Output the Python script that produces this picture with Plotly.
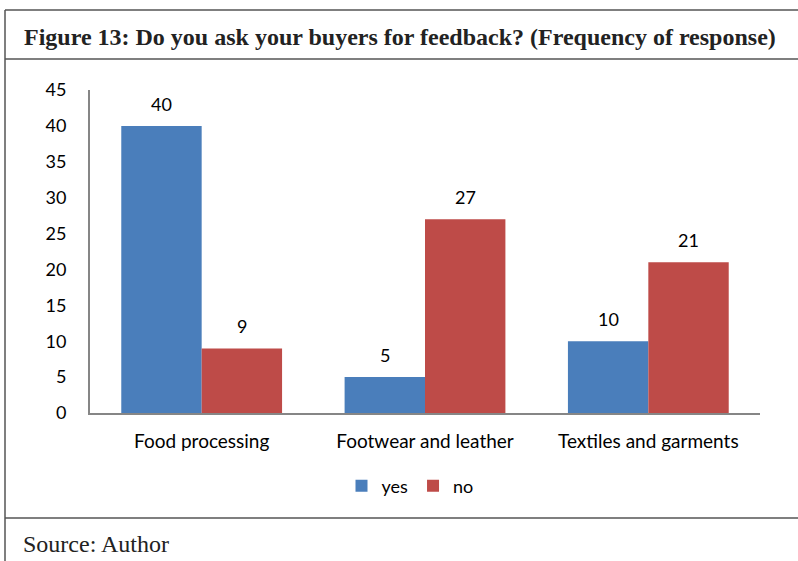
import plotly.graph_objects as go

categories = ["Food processing", "Footwear and leather", "Textiles and garments"]
yes_values = [40, 5, 10]
no_values = [9, 27, 21]
y_ticks = [0, 5, 10, 15, 20, 25, 30, 35, 40, 45]

W, H = 798, 561
ML, MR, MT, MB = 90, 38, 90, 148
PW, PH = W - ML - MR, H - MT - MB

def px(x):
    return (x - ML) / PW

def py(y):
    return (H - MB - y) / PH

blue = "#4A7EBB"
red = "#BE4B48"
font_main = "Lato, Carlito, Calibri, sans-serif"
serif = "Liberation Serif, Times New Roman, serif"

xi = list(range(len(categories)))
bargap = 0.28
bw = (1 - bargap) / 2

fig = go.Figure()
fig.add_trace(go.Bar(x=xi, y=yes_values, name="yes", marker_color=blue,
                     marker_line_width=0))
fig.add_trace(go.Bar(x=xi, y=no_values, name="no", marker_color=red,
                     marker_line_width=0))

annotations = []
for i, v in enumerate(yes_values):
    annotations.append(dict(x=i - bw / 2, y=v, xref="x", yref="y", text=str(v),
                            showarrow=False, yanchor="bottom", yshift=9,
                            font=dict(size=18, color="#000", family=font_main)))
for i, v in enumerate(no_values):
    annotations.append(dict(x=i + bw / 2, y=v, xref="x", yref="y", text=str(v),
                            showarrow=False, yanchor="bottom", yshift=9,
                            font=dict(size=18, color="#000", family=font_main)))

annotations.append(dict(x=px(22), y=py(37), xref="paper", yref="paper",
                        text="<b>Figure 13: Do you ask your buyers for feedback? (Frequency of response)</b>",
                        showarrow=False, xanchor="left", yanchor="middle",
                        font=dict(size=24, color="#222", family=serif)))
annotations.append(dict(x=px(21), y=py(544), xref="paper", yref="paper",
                        text="Source: Author",
                        showarrow=False, xanchor="left", yanchor="middle",
                        font=dict(size=24, color="#222", family=serif)))

line_color = "#555555"
shapes = [
    dict(type="line", xref="paper", yref="paper", x0=px(5), x1=px(W + 5), y0=py(10), y1=py(10),
         line=dict(color=line_color, width=1.5)),
    dict(type="line", xref="paper", yref="paper", x0=px(5), x1=px(5), y0=py(10), y1=py(H + 5),
         line=dict(color=line_color, width=1.5)),
    dict(type="line", xref="paper", yref="paper", x0=px(5), x1=px(W + 5), y0=py(59), y1=py(59),
         line=dict(color=line_color, width=1.5)),
    dict(type="line", xref="paper", yref="paper", x0=px(5), x1=px(W + 5), y0=py(518), y1=py(518),
         line=dict(color=line_color, width=1.5)),
]

fig.update_layout(
    width=W, height=H,
    margin=dict(l=ML, r=MR, t=MT, b=MB, pad=0),
    paper_bgcolor="white", plot_bgcolor="white",
    barmode="group", bargap=bargap, bargroupgap=0,
    showlegend=True,
    legend=dict(orientation="h", x=px(410), y=py(486), xanchor="center", yanchor="middle",
                font=dict(size=18, color="#000", family=font_main), itemwidth=30,
                traceorder="normal"),
    annotations=annotations,
    shapes=shapes,
    font=dict(family=font_main, size=18, color="#000"),
)
fig.update_xaxes(tickmode="array", tickvals=xi, ticktext=categories, range=[-0.5, 2.5],
                 showgrid=False, zeroline=False, showline=True, linecolor="#868686", linewidth=2,
                 ticks="", ticklabelstandoff=10, tickfont=dict(size=19), fixedrange=True)
fig.update_yaxes(range=[0, 45], tickmode="array", tickvals=y_ticks, showgrid=False, zeroline=False,
                 showline=True, linecolor="#868686", linewidth=2, ticks="",
                 ticklabelstandoff=18, tickfont=dict(size=18), fixedrange=True)

fig.write_html("out.html", config={"displayModeBar": False},
               post_script="document.body.style.margin='0';document.body.style.overflow='hidden';")
